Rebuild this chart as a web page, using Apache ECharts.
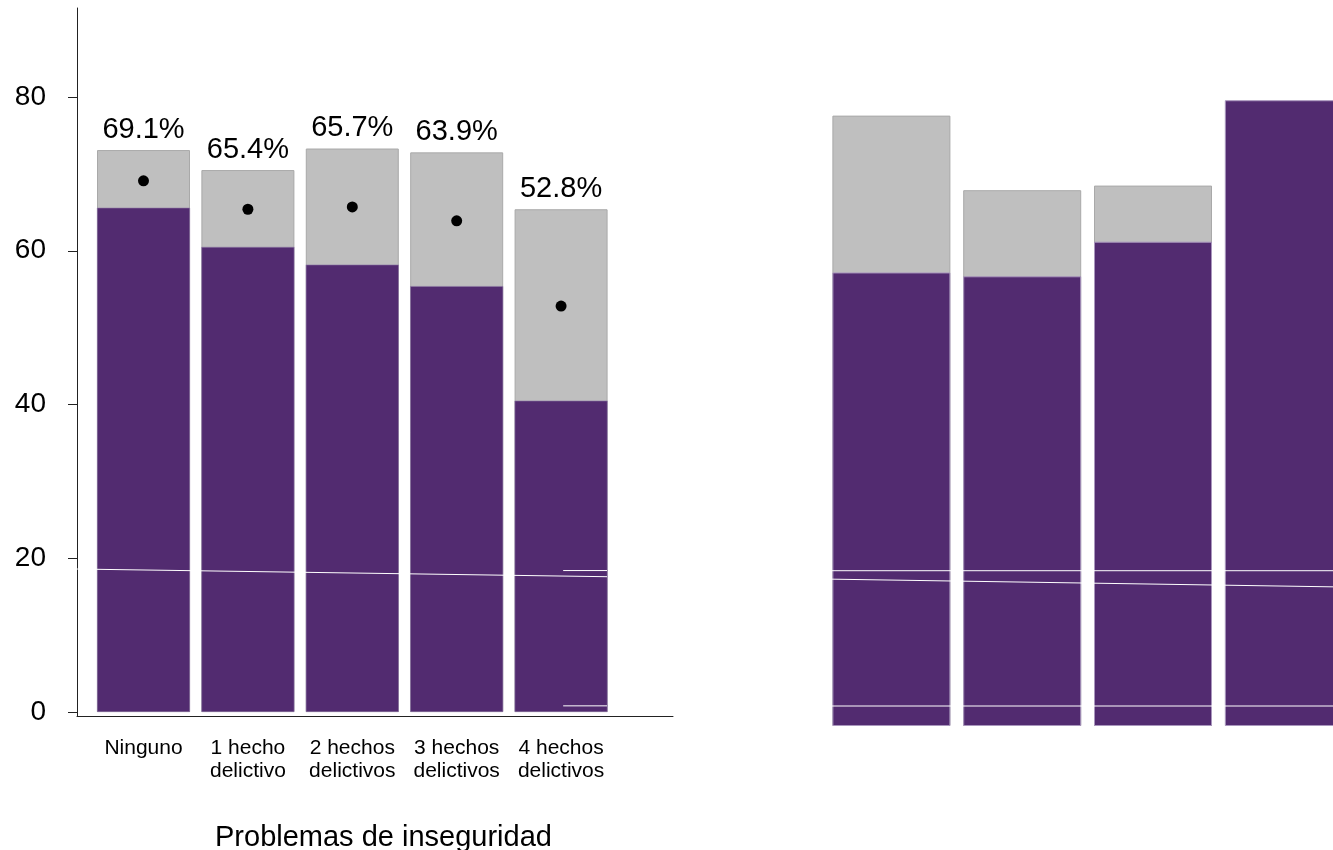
<!DOCTYPE html>
<html>
<head>
<meta charset="utf-8">
<script src="https://cdn.jsdelivr.net/npm/echarts@6/dist/echarts.min.js"></script>
<style>html,body{margin:0;padding:0;background:#fff}#c{width:1333px;height:850px}</style>
</head>
<body>
<div id="c"></div>
<script>
// ---- data (left panel) ----
const categories = ['Ninguno', '1 hecho\ndelictivo', '2 hechos\ndelictivos', '3 hechos\ndelictivos', '4 hechos\ndelictivos'];
const catPos = [1, 2, 3, 4, 5];
const pointEstimate = [69.1, 65.4, 65.7, 63.9, 52.8];
const lowerLeft = [65.6, 60.5, 58.2, 55.4, 40.5];
const upperLeft = [73.1, 70.5, 73.3, 72.8, 65.4];
const yTicks = [0, 20, 40, 60, 80];
const xTitle = 'Problemas de inseguridad';
// white guide lines in left panel: [x, y] pairs
const leftSlopeLine = [[0.363, 18.6], [5.44, 17.6]];
const leftShortTop = [[5.02, 18.4], [5.44, 18.4]];
const leftShortBottom = [[5.02, 0.8], [5.44, 0.8]];

// ---- data (right panel) ----
const rightPos = [1, 2, 3, 4];
const rightLower = [59.0, 58.5, 63.0, 81.4];
const rightUpper = [79.4, 69.7, 70.3, null];
const rightFlatTop = [[0.546, 20.2], [4.376, 20.2]];
const rightSlope = [[0.546, 19.1], [4.376, 18.1]];
const rightFlatBottom = [[0.546, 2.6], [4.376, 2.6]];

const PURPLE = '#522B70';
const GREY = '#BFBFBF';
const FONT = 'Liberation Sans, Arial, sans-serif';

const chart = echarts.init(document.getElementById('c'), null, {renderer: 'canvas'});

function pairs(xs, ys) { return xs.map((x, i) => [x, ys[i]]); }
function whiteLine(data, xi, yi) {
  return {type: 'line', xAxisIndex: xi, yAxisIndex: yi, data: data, symbol: 'none', silent: true,
    lineStyle: {color: '#ffffff', width: 1}, z: 5, animation: false};
}

const option = {
  animation: false,
  backgroundColor: '#ffffff',
  textStyle: {fontFamily: FONT},
  title: {text: xTitle, left: 210, top: 818,
    textStyle: {fontFamily: FONT, fontSize: 29, fontWeight: 'normal', color: '#000'}},
  grid: [
    {left: 77, width: 596, top: 8, bottom: 134, containLabel: false},
    {left: 826, right: 0, top: 8, bottom: 124, containLabel: false}
  ],
  xAxis: [
    {type: 'value', gridIndex: 0, min: 0.363, max: 6.072,
      axisLine: {show: true, onZero: false, lineStyle: {color: '#222', width: 1}},
      axisTick: {show: false}, splitLine: {show: false},
      axisLabel: {customValues: catPos, formatter: v => categories[Math.round(v) - 1] || '',
        fontFamily: FONT, fontSize: 21, lineHeight: 23, color: '#000', margin: 21}},
    {type: 'value', gridIndex: 1, min: 0.5, max: 4.376, show: false}
  ],
  yAxis: [
    {type: 'value', gridIndex: 0, min: -0.52, max: 91.58,
      axisLine: {show: true, onZero: false, lineStyle: {color: '#222', width: 1}},
      axisTick: {show: true, length: 9, customValues: yTicks, lineStyle: {color: '#222'}},
      axisLabel: {customValues: yTicks, fontFamily: FONT, fontSize: 28, color: '#000', margin: 31},
      splitLine: {show: false}},
    {type: 'value', gridIndex: 1, min: 0, max: 93.4, show: false}
  ],
  series: [
    {type: 'bar', xAxisIndex: 0, yAxisIndex: 0, barWidth: 93, barGap: '-100%',
      data: pairs(catPos, upperLeft),
      itemStyle: {color: GREY, borderColor: '#a9a9a9', borderWidth: 1},
      label: {show: true, position: 'top', distance: 6, fontFamily: FONT, fontSize: 29, color: '#000',
        formatter: p => pointEstimate[p.dataIndex].toFixed(1) + '%'}},
    {type: 'bar', xAxisIndex: 0, yAxisIndex: 0, barWidth: 93, barGap: '-100%',
      data: pairs(catPos, lowerLeft),
      itemStyle: {color: PURPLE, borderColor: '#8f7aa6', borderWidth: 0.6}},
    {type: 'scatter', xAxisIndex: 0, yAxisIndex: 0, data: pairs(catPos, pointEstimate),
      symbolSize: 11, itemStyle: {color: '#000000', opacity: 1}, z: 4},
    whiteLine(leftSlopeLine, 0, 0),
    whiteLine(leftShortTop, 0, 0),
    whiteLine(leftShortBottom, 0, 0),
    {type: 'bar', xAxisIndex: 1, yAxisIndex: 1, barWidth: 118, barGap: '-100%',
      data: pairs(rightPos, rightUpper),
      itemStyle: {color: GREY, borderColor: '#a9a9a9', borderWidth: 1}},
    {type: 'bar', xAxisIndex: 1, yAxisIndex: 1, barWidth: 118, barGap: '-100%',
      data: pairs(rightPos, rightLower),
      itemStyle: {color: PURPLE, borderColor: '#a996bd', borderWidth: 1}},
    whiteLine(rightFlatTop, 1, 1),
    whiteLine(rightSlope, 1, 1),
    whiteLine(rightFlatBottom, 1, 1)
  ]
};
chart.setOption(option);
</script>
</body>
</html>
